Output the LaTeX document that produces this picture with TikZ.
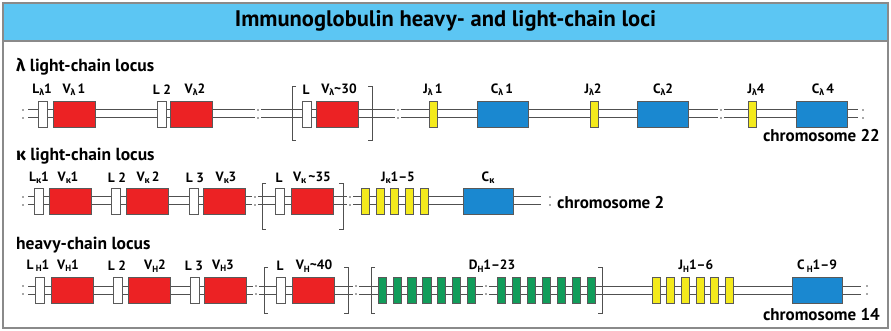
\documentclass[tikz,border=0pt]{standalone}
\usepackage{fontspec}
\setmainfont{PT Sans}
\newfontfamily\grk{Fira Sans}
\definecolor{hdrc}{HTML}{5CC6F3}
\definecolor{framec}{HTML}{8A8A8A}
\definecolor{dnac}{HTML}{505050}
\definecolor{vred}{HTML}{EC2224}
\definecolor{jyel}{HTML}{F4EA1C}
\definecolor{cblu}{HTML}{1A88D0}
\definecolor{dgrn}{HTML}{119C5A}
\newcommand\lam{{\grk λ}}
\newcommand\kap{{\grk κ}}
\newcommand\sbs[1]{\raisebox{-0.35ex}{\fontsize{9}{9}\selectfont #1}}
\newcommand\brkat[3]{\node[brknode] (#1) at (#2,#3) {};
  \fill[dnac] ([yshift=4pt]#1.center) circle (0.9pt) ([yshift=-4pt]#1.center) circle (0.9pt);}
\newcommand\lbrk[3]{\draw[bracket] (#1+4,#2) -| (#1,#3) -- (#1+4,#3);}
\newcommand\rbrk[3]{\draw[bracket] (#1-4,#2) -| (#1,#3) -- (#1-4,#3);}
\tikzset{
 frame/.style={draw=framec, line width=1.4pt},
 dna/.style={draw=dnac, line width=1pt, double=white, double distance=7pt},
 seg/.style={rectangle, draw=black!65, line width=0.6pt, inner sep=0pt, minimum height=26pt},
 lseg/.style={seg, fill=white, minimum width=9pt},
 vseg/.style={seg, fill=vred, minimum width=42pt},
 jseg/.style={seg, fill=jyel, minimum width=8pt},
 cseg/.style={seg, fill=cblu, minimum width=51pt},
 dseg/.style={seg, fill=dgrn, minimum width=8.5pt},
 brknode/.style={rectangle, fill=white, minimum width=6pt, minimum height=12pt, inner sep=0pt},
 lbl/.style={inner sep=0pt, font=\bfseries\fontsize{13.5}{13.5}\selectfont},
 head/.style={inner sep=0pt, anchor=west, font=\bfseries\fontsize{17.5}{17.5}\selectfont},
 chrom/.style={inner sep=0pt, font=\bfseries\fontsize{17}{17}\selectfont},
 ttl/.style={inner sep=0pt, font=\bfseries\fontsize{22.5}{22.5}\selectfont},
 bracket/.style={draw=dnac, line width=0.8pt},
}
\begin{document}
\begin{tikzpicture}[x=1pt,y=-1pt]
\useasboundingbox (0,0) rectangle (891,331);
\fill[hdrc] (3,3) rectangle (888,41);
\draw[frame] (3,3) rectangle (888,328);
\draw[frame] (3,41) -- (888,41);
\node[ttl] (title) at (445.5,21) {Immunoglobulin heavy- and light-chain loci};

% ---------------- lambda row
\node[head] (h1) at (16,67) {\lam{} light-chain locus};
\coordinate (r1a) at (28,114); \coordinate (r1b) at (858,114);
\draw[dna] (r1a) -- (r1b);
\brkat{r1s}{23}{114}
\node[lseg] (l1L1) at (42.5,114) {};
\node[vseg] (l1V1) at (74,114) {};
\node[lseg] (l1L2) at (161.5,114) {};
\node[vseg] (l1V2) at (191,114) {};
\brkat{r1k1}{258}{114}
\lbrk{292}{86}{140}
\node[lseg] (l1L3) at (306.5,114) {};
\node[vseg] (l1V3) at (337,114) {};
\rbrk{372}{86}{140}
\brkat{r1k2}{398}{114}
\node[jseg] (l1J1) at (433.5,114) {};
\node[cseg] (l1C1) at (502.5,114) {};
\node[jseg] (l1J2) at (594,114) {};
\node[cseg] (l1C2) at (663,114) {};
\brkat{r1k3}{721}{114}
\node[jseg] (l1J4) at (752.5,114) {};
\node[cseg] (l1C4) at (821.5,114) {};
\brkat{r1e}{863}{114}
\node[lbl] (t1a) at (42,90) {L\sbs{\lam}1};
\node[lbl] (t1b) at (74,90) {V\sbs{\lam}\,1};
\node[lbl] (t1c) at (162,90) {L 2};
\node[lbl] (t1d) at (195,90) {V\sbs{\lam}2};
\node[lbl] (t1e) at (306,90) {L};
\node[lbl] (t1f) at (339,90) {V\sbs{\lam}\textasciitilde30};
\node[lbl] (t1g) at (433,90) {J\sbs{\lam}\,1};
\node[lbl] (t1h) at (502,90) {C\sbs{\lam}\,1};
\node[lbl] (t1i) at (593,90) {J\sbs{\lam}2};
\node[lbl] (t1j) at (663,90) {C\sbs{\lam}2};
\node[lbl] (t1k) at (756,90) {J\sbs{\lam}4};
\node[lbl] (t1l) at (823,90) {C\sbs{\lam}\,4};
\node[chrom, anchor=east] (c22) at (880,136) {chromosome 22};

% ---------------- kappa row
\node[head] (h2) at (16,156) {\kap{} light-chain locus};
\coordinate (r2a) at (28,201); \coordinate (r2b) at (541,201);
\draw[dna] (r2a) -- (r2b);
\brkat{r2s}{23}{201}
\node[lseg] (k1L1) at (38.5,201) {};
\node[vseg] (k1V1) at (70,201) {};
\node[lseg] (k1L2) at (116,201) {};
\node[vseg] (k1V2) at (147,201) {};
\node[lseg] (k1L3) at (194,201) {};
\node[vseg] (k1V3) at (224,201) {};
\brkat{r2k1}{255}{201}
\lbrk{262}{183}{229}
\node[lseg] (k1L4) at (279.5,201) {};
\node[vseg] (k1V4) at (312,201) {};
\rbrk{343}{183}{229}
\brkat{r2k2}{350}{201}
\foreach \i in {0,...,4} \node[jseg] (k1J\i) at (365.5+14.6*\i,201) {};
\node[cseg, minimum width=50pt] (k1C) at (488,201) {};
\brkat{r2e}{550}{201}
\node[lbl] (t2a) at (39,178) {L\sbs{\kap}1};
\node[lbl] (t2b) at (68,178) {V\sbs{\kap}1};
\node[lbl] (t2c) at (117,178) {L 2};
\node[lbl] (t2d) at (148,178) {V\sbs{\kap}\,2};
\node[lbl] (t2e) at (195,178) {L 3};
\node[lbl] (t2f) at (226,178) {V\sbs{\kap}3};
\node[lbl] (t2g) at (279,178) {L};
\node[lbl] (t2h) at (312,178) {V\sbs{\kap}\,\textasciitilde35};
\node[lbl] (t2i) at (398,178) {J\sbs{\kap}1--5};
\node[lbl] (t2j) at (488,178) {C\sbs{\kap}};
\node[chrom, anchor=west] (c2) at (557,203) {chromosome 2};

% ---------------- heavy row
\node[head] (h3) at (16,245) {heavy-chain locus};
\coordinate (r3a) at (28,290); \coordinate (r3b) at (861,290);
\draw[dna] (r3a) -- (r3b);
\brkat{r3s}{23}{290}
\node[lseg] (hL1) at (40,290) {};
\node[vseg] (hV1) at (72,290) {};
\node[lseg] (hL2) at (118,290) {};
\node[vseg] (hV2) at (149,290) {};
\node[lseg] (hL3) at (194.5,290) {};
\node[vseg] (hV3) at (225.5,290) {};
\brkat{r3k1}{256}{290}
\lbrk{264}{267}{313}
\node[lseg] (hL4) at (280.5,290) {};
\node[vseg] (hV4) at (313.5,290) {};
\rbrk{348}{267}{313}
\brkat{r3k2}{356}{290}
\lbrk{371}{267}{313}
\foreach \i in {0,...,6} \node[dseg] (hDa\i) at (382.25+14.8*\i,290) {};
\brkat{r3k3}{486}{290}
\foreach \i in {0,...,6} \node[dseg] (hDb\i) at (501.25+15*\i,290) {};
\rbrk{602}{267}{313}
\foreach \i in {0,...,5} \node[jseg] (hJ\i) at (656+14.6*\i,290) {};
\node[cseg, minimum width=50pt] (hC) at (817,290) {};
\brkat{r3e}{867}{290}
\node[lbl] (t3a) at (38,266) {L\,\sbs{H}1};
\node[lbl] (t3b) at (68,266) {V\sbs{H}1};
\node[lbl] (t3c) at (117,266) {L 2};
\node[lbl] (t3d) at (155,266) {V\sbs{H}2};
\node[lbl] (t3e) at (194,266) {L 3};
\node[lbl] (t3f) at (223,266) {V\sbs{H}3};
\node[lbl] (t3g) at (280,266) {L};
\node[lbl] (t3h) at (314,266) {V\sbs{H}\textasciitilde40};
\node[lbl] (t3i) at (492,266) {D\sbs{H}1--23};
\node[lbl] (t3j) at (696,266) {J\sbs{H}1--6};
\node[lbl] (t3k) at (817,266) {C\,\sbs{H}1--9};
\node[chrom, anchor=east] (c14) at (880,315) {chromosome 14};
\end{tikzpicture}
\end{document}
